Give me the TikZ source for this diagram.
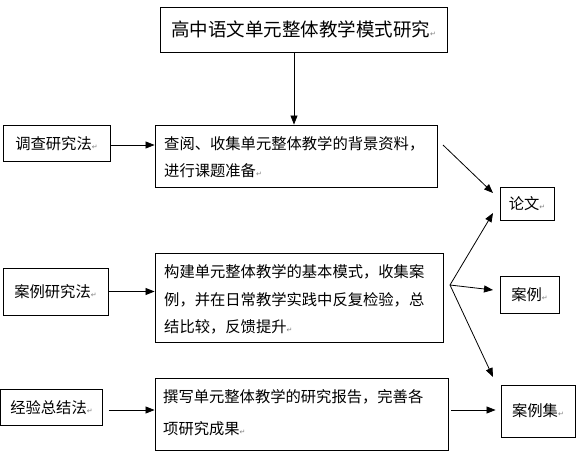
\documentclass[tikz,border=0pt]{standalone}
\usepackage{fontspec}
\setmainfont{Noto Sans CJK SC}
\newfontfamily\markfont{DejaVu Sans}
\usetikzlibrary{arrows.meta}
\newcommand{\pmark}{{\markfont\fontsize{7}{7}\selectfont\color{gray}↵}}
\begin{document}
\begin{tikzpicture}[x=1pt,y=-1pt,
  box/.style={draw,line width=0.9pt,inner sep=0pt,anchor=center},
  txt/.style={font=\fontsize{15.3}{27.5}\selectfont,align=left},
  arr/.style={line width=0.8pt,-{Triangle[length=9pt,width=7pt]}}]
\useasboundingbox (0,0) rectangle (577,458);
% boxes
\node[box,minimum width=287,minimum height=45,font=\fontsize{18.5}{20}\selectfont] (title) at (303.5,29.5) {高中语文单元整体教学模式研究\pmark};
\node[box,minimum width=107,minimum height=36,txt] (m1) at (56.5,143.5) {调查研究法\pmark};
\node[box,minimum width=282,minimum height=62] (s1) at (296,156) {};
\node[txt,anchor=north west,inner sep=0pt] (t1) at (164,136) {查阅、收集单元整体教学的背景资料，\\进行课题准备\pmark};
\node[box,minimum width=105,minimum height=47,txt] (m2) at (55.5,291.5) {案例研究法\pmark};
\node[box,minimum width=288,minimum height=89] (s2) at (299,297.5) {};
\node[txt,anchor=north west,inner sep=0pt] (t2) at (164,264.5) {构建单元整体教学的基本模式，收集案\\例，并在日常教学实践中反复检验，总\\结比较，反馈提升\pmark};
\node[box,minimum width=102,minimum height=36,txt] (m3) at (51.5,407.5) {经验总结法\pmark};
\node[box,minimum width=293,minimum height=72] (s3) at (301.5,414) {};
\node[anchor=north west,inner sep=0pt,font=\fontsize{15.3}{32}\selectfont,align=left] (t3) at (163,389) {撰写单元整体教学的研究报告，完善各\\项研究成果\pmark};
\node[box,minimum width=54,minimum height=33,txt] (o1) at (527,203.5) {论文\pmark};
\node[box,minimum width=59,minimum height=37,txt] (o2) at (529.5,294.5) {案例\pmark};
\node[box,minimum width=74,minimum height=52,txt] (o3) at (538,411) {案例集\pmark};
% connectors
\coordinate (tx) at (294,0);
\draw[arr] (title.south -| tx) -- (s1.north -| tx);
\coordinate (r1) at (0,145);
\draw[arr] (m1.east |- r1) -- (s1.west |- r1);
\draw[arr] (m2.east) -- (m2.east -| s2.west);
\coordinate (r3) at (0,410);
\draw[arr] ([xshift=6]m3.east |- r3) -- (s3.west |- r3);
\draw[arr] ([xshift=3]s3.east |- r3) -- ([xshift=-5]o3.west |- r3);
\coordinate (a1) at (443,145);
\coordinate (a1e) at (493,193);
\draw[arr] (a1) -- (a1e);
\coordinate (F) at (450,285);
\coordinate (f1) at (493,213);
\coordinate (f2) at (493,290);
\coordinate (f3) at (493,377);
\draw[arr] (F) -- (f1);
\draw[arr] (F) -- (f2);
\draw[arr] (F) -- (f3);
\end{tikzpicture}
\end{document}
